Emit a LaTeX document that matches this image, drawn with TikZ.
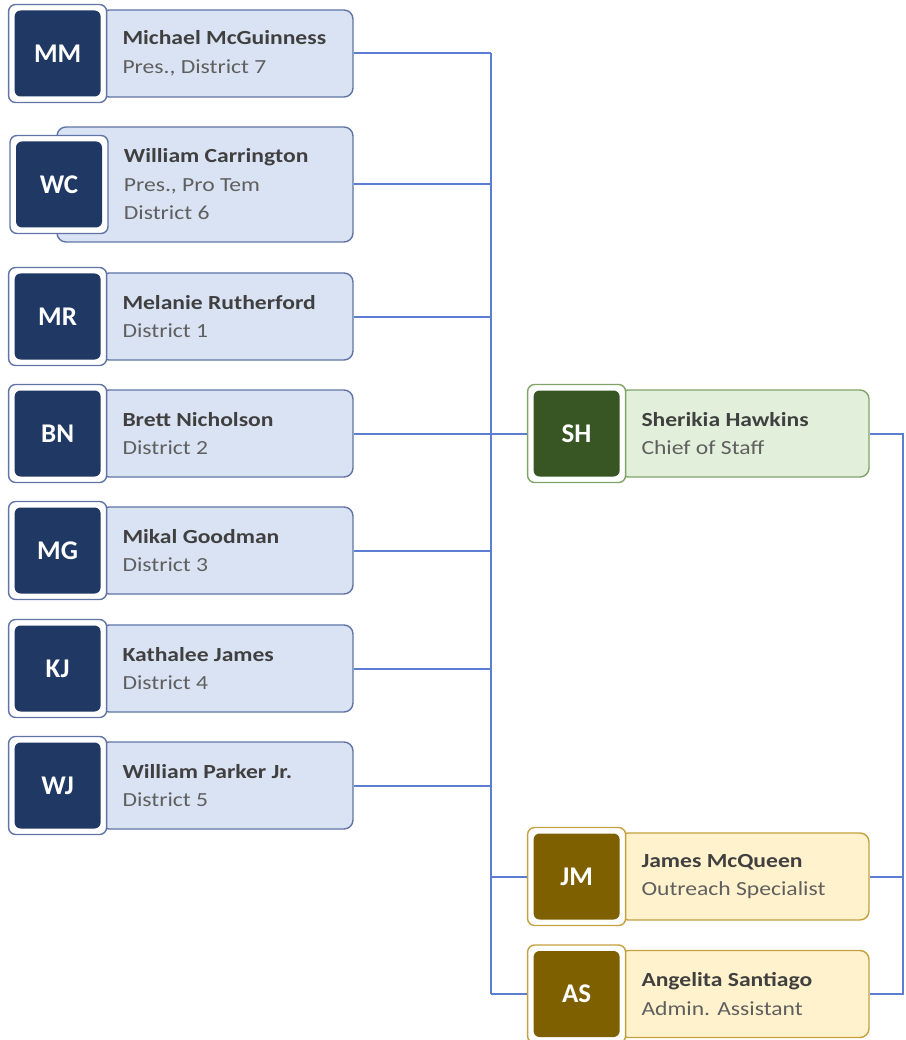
\documentclass[tikz,border=0pt]{standalone}
\usepackage{fontspec}
\newfontfamily\cardfont{Carlito}[FakeStretch=1.18]
\newfontfamily\badgefont{Carlito}
\usetikzlibrary{positioning}
\definecolor{bluefill}{RGB}{218,227,243}
\definecolor{blueline}{RGB}{96,116,165}
\definecolor{bluedark}{RGB}{31,56,100}
\definecolor{greenfill}{RGB}{226,239,218}
\definecolor{greenline}{RGB}{128,163,104}
\definecolor{greendark}{RGB}{55,86,35}
\definecolor{goldfill}{RGB}{255,242,204}
\definecolor{goldline}{RGB}{196,160,62}
\definecolor{golddark}{RGB}{127,96,0}
\definecolor{linkblue}{RGB}{92,126,210}
\definecolor{namegrey}{RGB}{64,64,64}
\definecolor{subgrey}{RGB}{95,95,95}

\begin{document}
\begin{tikzpicture}[x=1pt,y=-1pt,
  body/.style={draw=#1line,fill=#1fill,line width=1.4pt,rounded corners=9pt,
    minimum height=87pt,minimum width=253pt,inner sep=0pt},
  badge/.style={draw=#1line,fill=white,line width=1.4pt,rounded corners=7pt,
    minimum size=98pt,inner sep=0pt,text=white,
    font=\badgefont\bfseries\fontsize{27}{27}\selectfont,
    path picture={\fill[#1dark,rounded corners=6pt]
      ([shift={(6pt,-6pt)}]path picture bounding box.north west) rectangle
      ([shift={(-6pt,6pt)}]path picture bounding box.south east);}},
  card/.style={anchor=west,inner sep=0pt,align=left,text=subgrey,
    font=\cardfont\fontsize{20}{28.5}\selectfont},
  link/.style={draw=linkblue,line width=2pt}]
 \useasboundingbox (0,0) rectangle (905,1040);
 \coordinate (lbus) at (491,0);
 \coordinate (rbus) at (903,0);
 % council members
 \foreach \id/\ini/\yy/\nm/\sub in {mm/MM/53.5/Michael McGuinness/{Pres., District 7},
   mr/MR/316.5/Melanie Rutherford/District 1,bn/BN/433.5/Brett Nicholson/District 2,
   mg/MG/550.5/Mikal Goodman/District 3,kj/KJ/668.5/Kathalee James/District 4,
   wj/WJ/785.5/William Parker Jr./District 5} {
  \node[body=blue] (\id) at (226.5,\yy) {};
  \node[badge=blue,left=-8pt of \id.west] (\id b) {\ini};
  \node[card,right=15pt of \id b.east] (\id t) {{\bfseries\color{namegrey}\nm}\\\sub};
 }
 \node[body=blue,minimum width=296pt,minimum height=115pt] (wc) at (205,184.5) {};
 \node[badge=blue] (wcb) at (59,184.5) {WC};
 \node[card,right=15pt of wcb.east] (wct)
  {{\bfseries\color{namegrey}William Carrington}\\Pres., Pro Tem\\District 6};
 % staff
 \node[body=green,minimum width=250pt] (sh) at (744,433.5) {};
 \node[badge=green,left=-8pt of sh.west] (shb) {SH};
 \node[card,right=15pt of shb.east] (sht)
  {{\bfseries\color{namegrey}Sherikia Hawkins}\\Chief of Staff};
 \node[body=gold,minimum width=250pt] (jm) at (744,876.5) {};
 \node[badge=gold,left=-8pt of jm.west] (jmb) {JM};
 \node[card,right=15pt of jmb.east] (jmt)
  {{\bfseries\color{namegrey}James McQueen}\\Outreach Specialist};
 \node[body=gold,minimum width=250pt] (as) at (744,994) {};
 \node[badge=gold,left=-8pt of as.west] (asb) {AS};
 \node[card,right=15pt of asb.east] (ast)
  {{\bfseries\color{namegrey}Angelita Santiago}\\Admin. Assistant};
 % connectors
 \draw[link] (mm.east -| lbus) -- (asb.west -| lbus);
 \foreach \X in {mm,wc,mr,mg,kj,wj} {\draw[link] (\X.east) -- (\X.east -| lbus);}
 \draw[link] (bn.east) -- (shb.west);
 \foreach \X in {jmb,asb} {\draw[link] (\X.west) -- (\X.west -| lbus);}
 \draw[link] (sh.east) -- (sh.east -| rbus) -- (as.east -| rbus) -- (as.east);
 \draw[link] (jm.east) -- (jm.east -| rbus);
\end{tikzpicture}
\end{document}
